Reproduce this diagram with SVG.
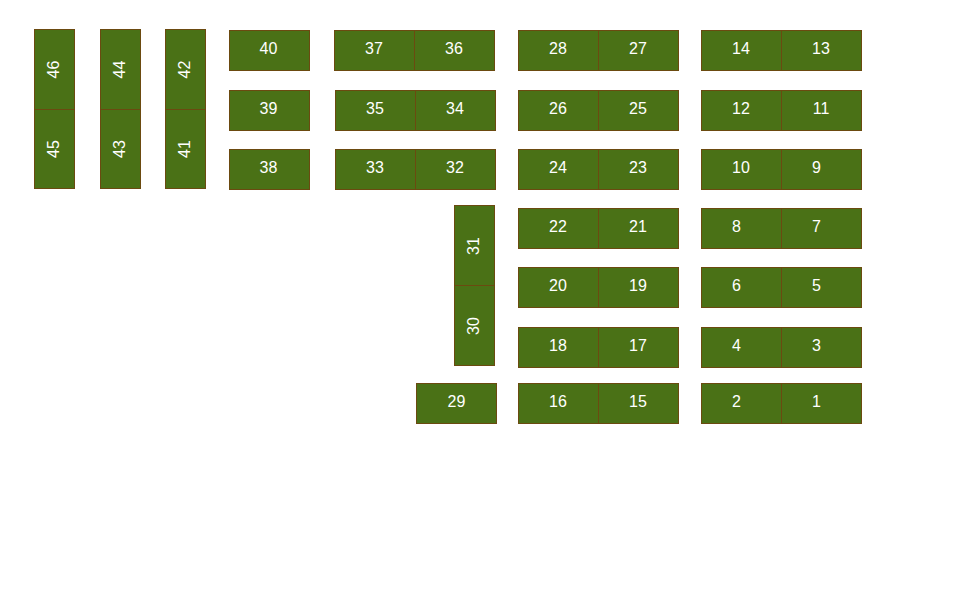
<svg xmlns="http://www.w3.org/2000/svg" width="968" height="600" viewBox="0 0 968 600">
<style>
.c{fill:#4a7116;stroke:#6b4a10;stroke-width:1}
.t{font-family:"Liberation Sans",Arial,sans-serif;font-size:16px;fill:#ffffff;text-anchor:middle}
</style>
<rect width="968" height="600" fill="#ffffff"/>
<g id="connectors"></g>
<g id="n46"><rect class="c" x="34.5" y="29.5" width="40" height="80"/><text class="t" x="54.5" y="73.5" transform="rotate(-90 54.5 69.5)">46</text></g>
<g id="n45"><rect class="c" x="34.5" y="109.5" width="40" height="79"/><text class="t" x="54.5" y="153" transform="rotate(-90 54.5 149)">45</text></g>
<g id="n44"><rect class="c" x="100.5" y="29.5" width="40" height="80"/><text class="t" x="120.5" y="73.5" transform="rotate(-90 120.5 69.5)">44</text></g>
<g id="n43"><rect class="c" x="100.5" y="109.5" width="40" height="79"/><text class="t" x="120.5" y="153" transform="rotate(-90 120.5 149)">43</text></g>
<g id="n42"><rect class="c" x="165.5" y="29.5" width="40" height="80"/><text class="t" x="185.5" y="73.5" transform="rotate(-90 185.5 69.5)">42</text></g>
<g id="n41"><rect class="c" x="165.5" y="109.5" width="40" height="79"/><text class="t" x="185.5" y="153" transform="rotate(-90 185.5 149)">41</text></g>
<g id="n40"><rect class="c" x="229.5" y="30.5" width="80" height="40"/><text class="t" x="268.5" y="53.5">40</text></g>
<g id="n39"><rect class="c" x="229.5" y="90.5" width="80" height="40"/><text class="t" x="268.5" y="113.5">39</text></g>
<g id="n38"><rect class="c" x="229.5" y="149.5" width="80" height="40"/><text class="t" x="268.5" y="172.5">38</text></g>
<g id="n37"><rect class="c" x="334.5" y="30.5" width="80" height="40"/><text class="t" x="374" y="53.5">37</text></g>
<g id="n36"><rect class="c" x="414.5" y="30.5" width="80" height="40"/><text class="t" x="454" y="53.5">36</text></g>
<g id="n35"><rect class="c" x="335.5" y="90.5" width="80" height="40"/><text class="t" x="375" y="113.5">35</text></g>
<g id="n34"><rect class="c" x="415.5" y="90.5" width="80" height="40"/><text class="t" x="455" y="113.5">34</text></g>
<g id="n33"><rect class="c" x="335.5" y="149.5" width="80" height="40"/><text class="t" x="375" y="172.5">33</text></g>
<g id="n32"><rect class="c" x="415.5" y="149.5" width="80" height="40"/><text class="t" x="455" y="172.5">32</text></g>
<g id="n31"><rect class="c" x="454.5" y="205.5" width="40" height="80"/><text class="t" x="474.5" y="250" transform="rotate(-90 474.5 246)">31</text></g>
<g id="n30"><rect class="c" x="454.5" y="285.5" width="40" height="80"/><text class="t" x="474.5" y="330" transform="rotate(-90 474.5 326)">30</text></g>
<g id="n29"><rect class="c" x="416.5" y="383.5" width="80" height="40"/><text class="t" x="456.5" y="406.5">29</text></g>
<g id="n28"><rect class="c" x="518.5" y="30.5" width="80" height="40"/><text class="t" x="558" y="53.5">28</text></g>
<g id="n27"><rect class="c" x="598.5" y="30.5" width="80" height="40"/><text class="t" x="638" y="53.5">27</text></g>
<g id="n26"><rect class="c" x="518.5" y="90.5" width="80" height="40"/><text class="t" x="558" y="113.5">26</text></g>
<g id="n25"><rect class="c" x="598.5" y="90.5" width="80" height="40"/><text class="t" x="638" y="113.5">25</text></g>
<g id="n24"><rect class="c" x="518.5" y="149.5" width="80" height="40"/><text class="t" x="558" y="172.5">24</text></g>
<g id="n23"><rect class="c" x="598.5" y="149.5" width="80" height="40"/><text class="t" x="638" y="172.5">23</text></g>
<g id="n22"><rect class="c" x="518.5" y="208.5" width="80" height="40"/><text class="t" x="558" y="231.5">22</text></g>
<g id="n21"><rect class="c" x="598.5" y="208.5" width="80" height="40"/><text class="t" x="638" y="231.5">21</text></g>
<g id="n20"><rect class="c" x="518.5" y="267.5" width="80" height="40"/><text class="t" x="558" y="290.5">20</text></g>
<g id="n19"><rect class="c" x="598.5" y="267.5" width="80" height="40"/><text class="t" x="638" y="290.5">19</text></g>
<g id="n18"><rect class="c" x="518.5" y="327.5" width="80" height="40"/><text class="t" x="558" y="350.5">18</text></g>
<g id="n17"><rect class="c" x="598.5" y="327.5" width="80" height="40"/><text class="t" x="638" y="350.5">17</text></g>
<g id="n16"><rect class="c" x="518.5" y="383.5" width="80" height="40"/><text class="t" x="558" y="406.5">16</text></g>
<g id="n15"><rect class="c" x="598.5" y="383.5" width="80" height="40"/><text class="t" x="638" y="406.5">15</text></g>
<g id="n14"><rect class="c" x="701.5" y="30.5" width="80" height="40"/><text class="t" x="741" y="53.5">14</text></g>
<g id="n13"><rect class="c" x="781.5" y="30.5" width="80" height="40"/><text class="t" x="821" y="53.5">13</text></g>
<g id="n12"><rect class="c" x="701.5" y="90.5" width="80" height="40"/><text class="t" x="741" y="113.5">12</text></g>
<g id="n11"><rect class="c" x="781.5" y="90.5" width="80" height="40"/><text class="t" x="821" y="113.5">11</text></g>
<g id="n10"><rect class="c" x="701.5" y="149.5" width="80" height="40"/><text class="t" x="741" y="172.5">10</text></g>
<g id="n9"><rect class="c" x="781.5" y="149.5" width="80" height="40"/><text class="t" x="816.5" y="172.5">9</text></g>
<g id="n8"><rect class="c" x="701.5" y="208.5" width="80" height="40"/><text class="t" x="736.5" y="231.5">8</text></g>
<g id="n7"><rect class="c" x="781.5" y="208.5" width="80" height="40"/><text class="t" x="816.5" y="231.5">7</text></g>
<g id="n6"><rect class="c" x="701.5" y="267.5" width="80" height="40"/><text class="t" x="736.5" y="290.5">6</text></g>
<g id="n5"><rect class="c" x="781.5" y="267.5" width="80" height="40"/><text class="t" x="816.5" y="290.5">5</text></g>
<g id="n4"><rect class="c" x="701.5" y="327.5" width="80" height="40"/><text class="t" x="736.5" y="350.5">4</text></g>
<g id="n3"><rect class="c" x="781.5" y="327.5" width="80" height="40"/><text class="t" x="816.5" y="350.5">3</text></g>
<g id="n2"><rect class="c" x="701.5" y="383.5" width="80" height="40"/><text class="t" x="736.5" y="406.5">2</text></g>
<g id="n1"><rect class="c" x="781.5" y="383.5" width="80" height="40"/><text class="t" x="816.5" y="406.5">1</text></g>
</svg>
